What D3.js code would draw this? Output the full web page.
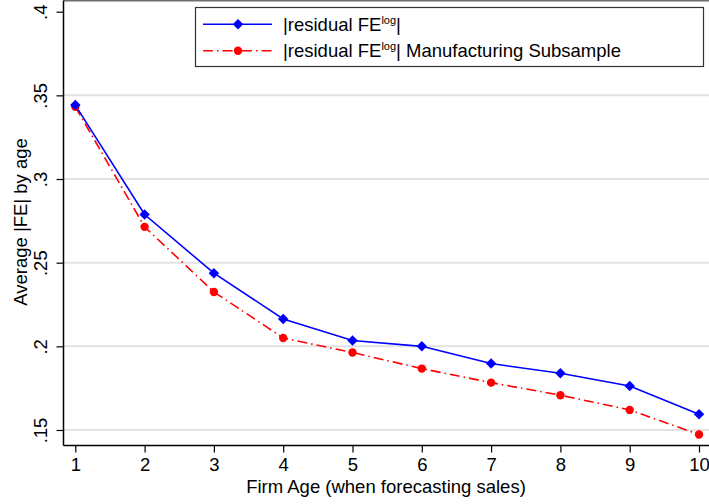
<!DOCTYPE html>
<html>
<head>
<meta charset="utf-8">
<script src="https://cdn.jsdelivr.net/npm/d3@7"></script>
<style>
  body { margin: 0; background: #fff; }
  svg { display: block; font-family: "Liberation Sans", Arial, sans-serif; }
</style>
</head>
<body>
<div id="chart"></div>
<script>
// data
var ages = [1, 2, 3, 4, 5, 6, 7, 8, 9, 10];
var feAll = [0.3442, 0.2788, 0.2437, 0.2164, 0.2035, 0.2000, 0.1897, 0.1839, 0.1763, 0.1594];
var feManuf = [0.3432, 0.2714, 0.2325, 0.2050, 0.1963, 0.1867, 0.1783, 0.1708, 0.1620, 0.1473];
var yTicks = [0.15, 0.2, 0.25, 0.3, 0.35, 0.4];
var yTickLabels = [".15", ".2", ".25", ".3", ".35", ".4"];

var width = 709, height = 504;
var fs = 18.5;
var svg = d3.select("#chart").append("svg")
    .attr("width", width)
    .attr("height", height);

// scales
var x = d3.scaleLinear().domain([1, 10]).range([75.3, 699]);
var y = d3.scaleLinear().domain([0.15, 0.4]).range([430, 11.7]);
var plotLeft = 63.5, plotBottom = 445.5, plotTop = 0.5, plotRight = 712;

// gridlines (none at the top tick)
svg.append("g").selectAll("line")
    .data(yTicks.filter(d => d < 0.39))
    .enter().append("line")
    .attr("x1", plotLeft).attr("x2", plotRight)
    .attr("y1", d => y(d)).attr("y2", d => y(d))
    .attr("stroke", "#e2e2e2")
    .attr("stroke-width", 2);

// plot region top border
svg.append("line")
    .attr("x1", plotLeft).attr("x2", plotRight)
    .attr("y1", plotTop).attr("y2", plotTop)
    .attr("stroke", "#6e6e6e").attr("stroke-width", 2);

// y axis
var yAxis = d3.axisLeft(y)
    .tickValues(yTicks)
    .tickFormat((d, i) => yTickLabels[i])
    .tickSize(7)
    .tickPadding(4);
var gy = svg.append("g")
    .attr("transform", "translate(" + plotLeft + ",0)")
    .call(yAxis);
gy.select(".domain").attr("d", "M0," + plotTop + "V" + plotBottom).attr("stroke-width", 1.5);
gy.selectAll(".tick line").attr("stroke-width", 1.2);
gy.selectAll(".tick text")
    .attr("font-size", fs)
    .attr("font-family", "Liberation Sans, Arial, sans-serif")
    .attr("fill", "#000")
    .attr("text-anchor", "middle")
    .attr("transform", "translate(-23,0) rotate(-90)")
    .attr("x", 0).attr("dy", "0.35em");

// x axis
var xAxis = d3.axisBottom(x)
    .tickValues(ages)
    .tickFormat(d3.format("d"))
    .tickSize(7)
    .tickPadding(5);
var gx = svg.append("g")
    .attr("transform", "translate(0," + plotBottom + ")")
    .call(xAxis);
gx.select(".domain").attr("d", "M" + plotLeft + ",0H" + plotRight).attr("stroke-width", 1.5);
gx.selectAll(".tick line").attr("stroke-width", 1.2);
gx.selectAll(".tick text")
    .attr("font-size", fs)
    .attr("font-family", "Liberation Sans, Arial, sans-serif")
    .attr("fill", "#000");

// axis titles
svg.append("text")
    .attr("x", 386).attr("y", 493)
    .attr("text-anchor", "middle")
    .attr("font-size", fs)
    .text("Firm Age (when forecasting sales)");

svg.append("text")
    .attr("transform", "translate(27,222) rotate(-90)")
    .attr("text-anchor", "middle")
    .attr("font-size", fs)
    .text("Average |FE| by age");

// lines
var line = d3.line().x((d, i) => x(ages[i])).y(d => y(d));

svg.append("path")
    .datum(feManuf)
    .attr("d", line)
    .attr("fill", "none")
    .attr("stroke", "#ff0000")
    .attr("stroke-width", 1.6)
    .attr("stroke-dasharray", "10,4,1.5,4");

svg.append("path")
    .datum(feAll)
    .attr("d", line)
    .attr("fill", "none")
    .attr("stroke", "#0000ff")
    .attr("stroke-width", 1.6);

// markers
var diamond = d3.symbol().type(d3.symbolDiamond2).size(70);

svg.append("g").selectAll("circle")
    .data(feManuf)
    .enter().append("circle")
    .attr("cx", (d, i) => x(ages[i]))
    .attr("cy", d => y(d))
    .attr("r", 4.2)
    .attr("fill", "#ff0000");

svg.append("g").selectAll("path")
    .data(feAll)
    .enter().append("path")
    .attr("d", diamond)
    .attr("transform", (d, i) => "translate(" + x(ages[i]) + "," + y(d) + ")")
    .attr("fill", "#0000ff");

// legend
var legend = svg.append("g");
legend.append("rect")
    .attr("x", 195.5).attr("y", 7.5)
    .attr("width", 508).attr("height", 59)
    .attr("fill", "#fff")
    .attr("stroke", "#333")
    .attr("stroke-width", 1.2);

var items = [
    {name: "", color: "#0000ff", dash: null, y: 24.3, marker: "diamond"},
    {name: " Manufacturing Subsample", color: "#ff0000", dash: "10,4,1.5,4", y: 50.7, marker: "circle"}
];
items.forEach(function(it) {
    legend.append("line")
        .attr("x1", 203).attr("x2", 272)
        .attr("y1", it.y).attr("y2", it.y)
        .attr("stroke", it.color)
        .attr("stroke-width", 1.6)
        .attr("stroke-dasharray", it.dash);
    if (it.marker === "diamond") {
        legend.append("path")
            .attr("d", diamond)
            .attr("transform", "translate(238," + it.y + ")")
            .attr("fill", it.color);
    } else {
        legend.append("circle")
            .attr("cx", 238).attr("cy", it.y).attr("r", 4.2)
            .attr("fill", it.color);
    }
    var t = legend.append("text")
        .attr("x", 283).attr("y", it.y + 6.5)
        .attr("font-size", fs);
    t.append("tspan").text("|residual FE");
    t.append("tspan").attr("font-size", 11).attr("dy", -7).text("log");
    t.append("tspan").attr("dy", 7).text("|" + it.name);
});
</script>
</body>
</html>
